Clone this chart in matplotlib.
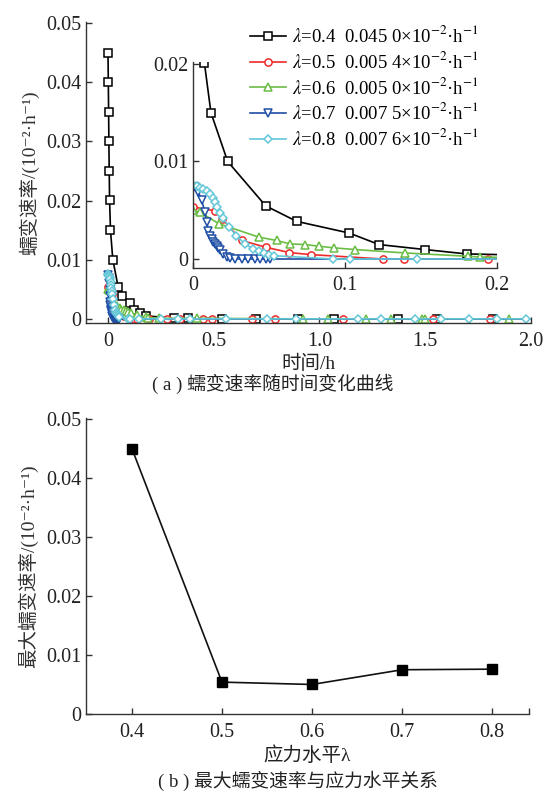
import matplotlib
matplotlib.use("Agg")
import matplotlib.pyplot as plt

plt.rcParams["font.family"] = ["Liberation Serif", "Noto Sans CJK SC", "DejaVu Sans"]
plt.rcParams["mathtext.fontset"] = "stix"
plt.rcParams["font.size"] = 14.5
plt.rcParams["axes.unicode_minus"] = False

# 应力水平与最大蠕变速率
lam = [0.4, 0.5, 0.6, 0.7, 0.8]
vmax = [0.0450, 0.0054, 0.0050, 0.0075, 0.0076]

# 蠕变速率-时间曲线 (最后一点只画线，不画标记)
t_04 = [0.0, 0.0015, 0.003, 0.0042, 0.0058, 0.0075, 0.0118, 0.0228, 0.0478, 0.0682, 0.1028,
        0.1224, 0.1526, 0.180, 0.31, 0.38, 0.54, 0.70, 0.90, 1.07, 1.37, 1.556, 1.82, 2.0]
v_04 = [0.0450, 0.0400, 0.0350, 0.0300, 0.0250, 0.0201, 0.0150, 0.0100, 0.00545, 0.00386, 0.00266,
        0.00148, 0.00097, 0.00052, 0.0001, 0.0001, 0.0, 0.0, 0.0, 0.0, 0.0, 0.0, 0.0, 0.0]

t_05 = [0.0002, 0.0145, 0.0189, 0.032, 0.048, 0.0634, 0.0774, 0.1248, 0.1388, 0.1943,
        0.28, 0.34, 0.45, 0.49, 0.68, 0.79, 1.11, 1.537, 1.806, 2.0]
v_05 = [0.00534, 0.00493, 0.00414, 0.0019, 0.0012, 0.00066, 0.00045, 0.0, 0.0, 0.0,
        0.0, 0.0, 0.0, 0.0, 0.0, 0.0, 0.0, 0.0, 0.0, 0.0]

t_06 = [0.0, 0.0045, 0.0173, 0.0434, 0.055, 0.0638, 0.0737, 0.0831, 0.0928, 0.1066, 0.1395, 0.181, 0.189,
        0.24, 0.42, 0.92, 1.04, 1.22, 1.34, 1.483, 1.499, 1.896, 2.0]
v_06 = [0.0050, 0.0048, 0.0036, 0.00224, 0.0019, 0.00155, 0.00148, 0.00131, 0.00114, 0.00097, 0.00062,
        0.00028, 0.0002, 0.0001, 0.0001, 0.0, 0.0, 0.0, 0.0, 0.0, 0.0, 0.0, 0.0]

t_07 = [0.0013, 0.0035, 0.0057, 0.0079, 0.0090, 0.0101, 0.0112, 0.0123, 0.0134, 0.0145, 0.0156, 0.0167,
        0.0178, 0.0200, 0.0221, 0.0243, 0.0276, 0.0320, 0.0364, 0.0408, 0.0441, 0.0480, 0.0507, 2.0]
v_07 = [0.0074, 0.0069, 0.0060, 0.0048, 0.0038, 0.0029, 0.0024, 0.0020, 0.0017, 0.0015, 0.0013, 0.0011,
        0.0009, 0.0005, 0.0002, 0.0001, 0.0, 0.0, 0.0, 0.0, 0.0, 0.0, 0.0, 0.0]

t_08 = [0.0002, 0.0024, 0.0046, 0.0068, 0.0090, 0.0112, 0.0129, 0.0145, 0.0160, 0.0178, 0.0195, 0.0239,
        0.0283, 0.0342, 0.0397, 0.0436, 0.0467, 0.0502, 0.0533, 0.0923, 0.1033, 0.1476,
        0.25, 0.33, 0.39, 0.56, 0.75, 0.89, 1.18, 1.29, 1.45, 1.574, 1.707, 1.839, 1.976, 2.0]
v_08 = [0.0076, 0.0075, 0.0073, 0.0072, 0.0070, 0.0067, 0.0063, 0.0058, 0.0053, 0.0047, 0.0042, 0.0033,
        0.0024, 0.00155, 0.0010, 0.0008, 0.0006, 0.00045, 0.00034, 0.0, 0.0, 0.0,
        0.0, 0.0, 0.0, 0.0, 0.0, 0.0, 0.0, 0.0, 0.0, 0.0, 0.0, 0.0, 0.0, 0.0]

series = [
    (t_04, v_04, "#000000", "s"),
    (t_05, v_05, "#ee2b2b", "o"),
    (t_06, v_06, "#6bbd45", "^"),
    (t_07, v_07, "#1f4fa6", "v"),
    (t_08, v_08, "#63c7d8", "D"),
]

tick_color = "#222222"


def style_axes(ax):
    for s in ["top", "right"]:
        ax.spines[s].set_visible(False)
    for s in ["left", "bottom"]:
        ax.spines[s].set_linewidth(1.0)
        ax.spines[s].set_color("#333333")
    ax.tick_params(direction="in", length=4, width=1.0, colors="#333333", labelcolor=tick_color)
    ax.tick_params(axis="x", pad=6.5)


def fmt(v):
    return "0" if v == 0 else ("%g" % v)


fig = plt.figure(figsize=(5.46, 7.94), dpi=100)

# (a) 主图
ax1 = fig.add_axes([0.1575, 0.5932, 0.815, 0.3791])
handles = []
for (t, v, c, m), lv, mx in zip(series, lam, vmax):
    ms = 4.5 if m == "D" else 5.2
    ln, = ax1.plot(t, v, color=c, lw=1.2, marker=m, ms=ms, mfc="white", mec=c, mew=1.1,
                   markevery=list(range(len(t) - 1)))
    s = "%.4f" % mx
    ln.set_label("$\\mathit{\\lambda}$=%g  %s %s×10$^{-2}$·h$^{-1}$" % (lv, s[:-1], s[-1]))
    handles.append(ln)
ax1.set_xlim(-0.104, 2.0)
ax1.set_ylim(-0.0007, 0.0502)
ax1.set_xticks([0, 0.5, 1.0, 1.5, 2.0])
ax1.set_xticklabels(["0", "0.5", "1.0", "1.5", "2.0"])
ax1.set_yticks([0, 0.01, 0.02, 0.03, 0.04, 0.05])
ax1.set_yticklabels([fmt(y) for y in [0, 0.01, 0.02, 0.03, 0.04, 0.05]])
style_axes(ax1)
ax1.set_xlabel("时间/h", fontsize=14, labelpad=3, color=tick_color)
ax1.set_ylabel("蠕变速率/(10⁻²·h⁻¹)", fontsize=14, labelpad=5, color="#333333")

# 局部放大
ax2 = fig.add_axes([0.3535, 0.6625, 0.5568, 0.2594])
ax2.patch.set_alpha(0)
for t, v, c, m in series:
    ms = 4.5 if m == "D" else 5.2
    ax2.plot(t, v, color=c, lw=1.2, marker=m, ms=ms, mfc="white", mec=c, mew=1.1,
             markevery=list(range(len(t) - 1)))
ax2.set_xlim(0, 0.2)
ax2.set_ylim(-0.00092, 0.0202)
ax2.set_xticks([0, 0.1, 0.2])
ax2.set_xticklabels(["0", "0.1", "0.2"])
ax2.set_yticks([0, 0.01, 0.02])
ax2.set_yticklabels(["0", "0.01", "0.02"])
style_axes(ax2)
ax2.tick_params(axis="x", pad=6)

fig.legend(handles=handles, loc="upper left", bbox_to_anchor=(0.458, 0.968), frameon=False,
           fontsize=13.5, handlelength=1.9, handletextpad=0.35, labelspacing=0.25,
           borderpad=0, borderaxespad=0)

fig.text(0.5, 1 - 384 / 794, "( a ) 蠕变速率随时间变化曲线", ha="center", va="center",
         fontsize=13.5, color=tick_color)

# (b) 最大蠕变速率
ax3 = fig.add_axes([0.1575, 0.1008, 0.8114, 0.3728])
ax3.plot(lam, vmax, color="#111111", lw=1.2, marker="s", ms=6.5, mfc="#000000", mec="#000000")
ax3.set_xlim(0.349, 0.841)
ax3.set_ylim(0, 0.0502)
ax3.set_xticks([0.4, 0.5, 0.6, 0.7, 0.8, 0.841])
ax3.set_xticklabels(["0.4", "0.5", "0.6", "0.7", "0.8", ""])
ax3.set_yticks([0, 0.01, 0.02, 0.03, 0.04, 0.05])
ax3.set_yticklabels([fmt(y) for y in [0, 0.01, 0.02, 0.03, 0.04, 0.05]])
style_axes(ax3)
ax3.set_xlabel("应力水平λ", fontsize=14, labelpad=3, color=tick_color)
ax3.set_ylabel("最大蠕变速率/(10⁻²·h⁻¹)", fontsize=14, labelpad=6, color="#333333")

fig.text(0.545, 1 - 781 / 794, "( b ) 最大蠕变速率与应力水平关系", ha="center", va="center",
         fontsize=13.5, color=tick_color)

fig.savefig("out.png", dpi=100)
